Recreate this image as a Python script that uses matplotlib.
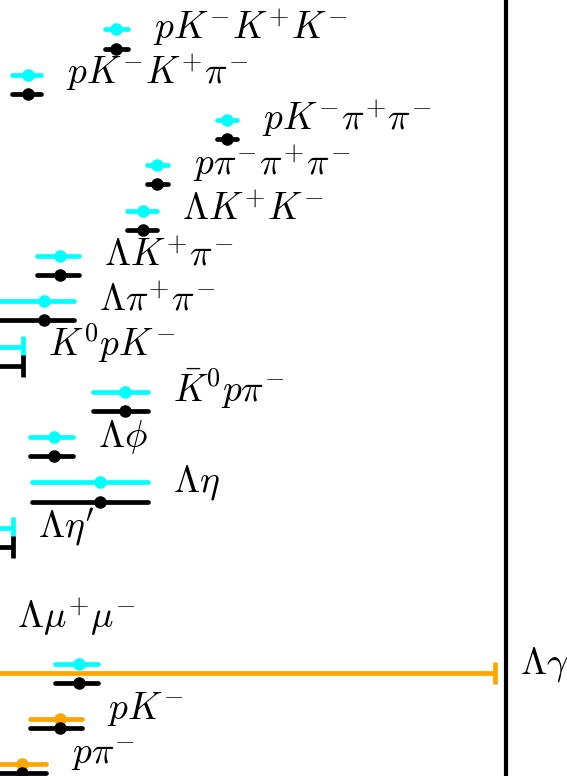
import numpy as np
import matplotlib
matplotlib.use('Agg')
import matplotlib.pyplot as plt

plt.rcParams['mathtext.fontset'] = 'cm'

# decay modes (row 12 has no visible mode)
labels = [r'$pK^{-}K^{+}K^{-}$', r'$pK^{-}K^{+}\pi^{-}$', r'$pK^{-}\pi^{+}\pi^{-}$', r'$p\pi^{-}\pi^{+}\pi^{-}$',
          r'$\Lambda K^{+}K^{-}$', r'$\Lambda K^{+}\pi^{-}$', r'$\Lambda\pi^{+}\pi^{-}$', r'$K^0pK^{-}$',
          r'$\bar{K}^0p\pi^{-}$', r'$\Lambda\phi$', r'$\Lambda\eta$', r"$\Lambda\eta'$",
          r'$\Lambda\mu^{+}\mu^{-}$', r'$\Lambda\gamma$', r'$pK^{-}$', r'$p\pi^{-}$']
rows = [0, 1, 2, 3, 4, 5, 6, 7, 8, 9, 10, 11, 13, 14, 15, 16]

nan = np.nan
# cyan series: value, lower err, upper err, upper-limit flag
cyan_val = [2.29, 0.55, 4.49, 3.10, 2.83, 1.19, 0.87, 0.46, 2.47, 1.07, 1.98, 0.26, -0.60, 1.56, nan, nan]
cyan_lo = [0.22, 0.32, 0.20, 0.20, 0.32, 0.46, 1.20, 0, 0.63, 0.47, 1.34, 0, 0.45, 0.47, nan, nan]
cyan_hi = [0.24, 0.26, 0.20, 0.22, 0.28, 0.38, 0.59, 0, 0.46, 0.38, 0.95, 0, 0.45, 0.38, nan, nan]
cyan_lim = [False] * 7 + [True, False, False, False, True] + [False] * 4

# black series
black_val = [2.29, 0.55, 4.49, 3.10, 2.83, 1.19, 0.87, 0.46, 2.47, 1.07, 1.98, 0.26, -0.60, 1.56, 1.19, 0.43]
black_lo = [0.22, 0.32, 0.20, 0.20, 0.32, 0.46, 1.20, 0, 0.63, 0.47, 1.34, 0, 0.45, 0.47, 0.59, 0.60]
black_hi = [0.24, 0.26, 0.20, 0.22, 0.28, 0.38, 0.59, 0, 0.46, 0.38, 0.95, 0, 0.45, 0.38, 0.43, 0.47]
black_lim = [False] * 7 + [True, False, False, False, True] + [False] * 4

# orange series
orange_val = [nan] * 13 + [9.78, 1.19, 0.43]
orange_lo = [nan] * 13 + [0, 0.59, 0.60]
orange_hi = [nan] * 13 + [0, 0.43, 0.47]
orange_lim = [False] * 13 + [True, False, False]

fig = plt.figure(figsize=(5.67, 7.76), dpi=100)
ax = fig.add_axes([0, 0, 506 / 567, 1])

y_rows = np.array(rows, float)


def draw(vals, lo, hi, lim, color, dy, z):
    vals = np.array(vals, float)
    lo = np.array(lo, float)
    hi = np.array(hi, float)
    lim = np.array(lim)
    y = y_rows + dy
    m = ~np.isnan(vals) & ~lim
    eb = ax.errorbar(vals[m], y[m], xerr=[lo[m], hi[m]], fmt='o', color=color,
                     ms=8, elinewidth=3.4, capsize=0, zorder=z)
    eb[2][0].set_capstyle('round')
    u = ~np.isnan(vals) & lim
    if u.any():
        ax.errorbar(vals[u], y[u], xerr=[vals[u] + 5, np.zeros(u.sum())], fmt='none',
                    ecolor=color, elinewidth=3.4, capsize=8, capthick=3.4, zorder=z)
    ends = np.where(lim, vals, vals + hi)
    return ends


e1 = draw(cyan_val, cyan_lo, cyan_hi, cyan_lim, 'cyan', -0.21, 3)
e2 = draw(orange_val, orange_lo, orange_hi, orange_lim, 'orange', 0.0, 4)
e3 = draw(black_val, black_lo, black_hi, black_lim, 'black', 0.21, 5)

right_ends = np.nanmax(np.vstack([e1, e2, e3]), axis=0)
for lab, r, xe in zip(labels, rows, right_ends):
    ax.annotate(lab, xy=(xe, r), xytext=(18, 0), textcoords='offset points',
                fontsize=27, va='baseline', ha='left', annotation_clip=False)

ax.set_xlim(0, 10)
ax.set_ylim((776 - 39) / 45.3, -39 / 45.3)
for s in ['left', 'top', 'bottom']:
    ax.spines[s].set_visible(False)
ax.spines['right'].set_linewidth(3)
ax.set_xticks([])
ax.set_yticks([])

fig.savefig('out.png', dpi=100)
